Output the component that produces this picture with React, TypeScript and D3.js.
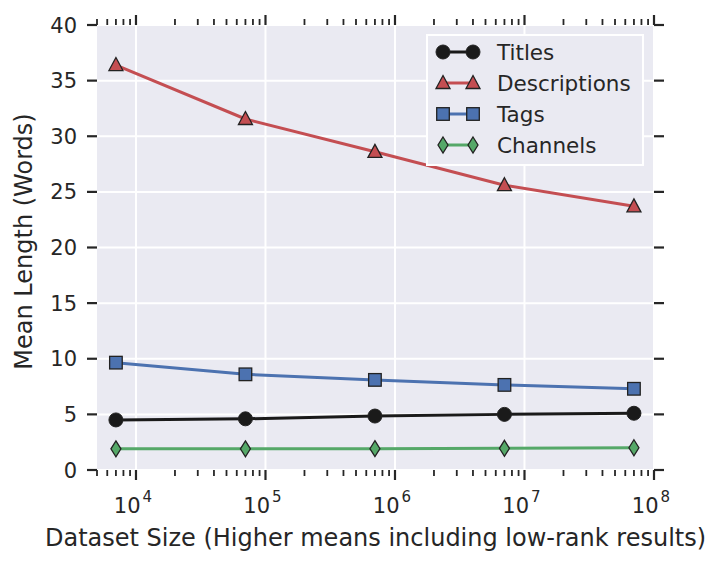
import React, { useEffect, useRef } from 'react';
import * as d3 from 'd3';

const datasetSizes = [7e3, 7e4, 7e5, 7e6, 7e7];
const titles = [4.5, 4.6, 4.85, 5.0, 5.1];
const descriptions = [36.4, 31.55, 28.6, 25.6, 23.7];
const tags = [9.65, 8.6, 8.1, 7.65, 7.3];
const channels = [1.9, 1.9, 1.92, 1.95, 2.0];

const seriesNames = ['Titles', 'Descriptions', 'Tags', 'Channels'];
const yTicks = [0, 5, 10, 15, 20, 25, 30, 35, 40];
const xDecades = [4, 5, 6, 7, 8];

const colors = ['#1a1a1a', '#C44E52', '#4C72B0', '#55A868'];
const markers = ['circle', 'triangle', 'square', 'diamond'];

const App: React.FC = () => {
  const svgRef = useRef<SVGSVGElement>(null);

  useEffect(() => {
    if (!svgRef.current) return;
    const svg = d3.select(svgRef.current);
    svg.selectAll('*').remove();

    const width = 720;
    const height = 566;
    const margin = { top: 25, right: 66, bottom: 96, left: 97 };
    const iw = width - margin.left - margin.right;
    const ih = height - margin.top - margin.bottom;
    const font = 'DejaVu Sans, sans-serif';
    const ink = '#262626';

    svg.attr('width', width).attr('height', height);

    const x = d3.scaleLog().domain([5e3, 1e8]).range([0, iw]);
    const y = d3.scaleLinear().domain([0, 40]).range([ih, 0]);

    const g = svg.append('g').attr('transform', `translate(${margin.left},${margin.top})`);

    g.append('rect').attr('width', iw).attr('height', ih).attr('fill', '#EAEAF2');

    // grid
    g.selectAll('.hgrid').data(yTicks).enter().append('line')
      .attr('x1', 0).attr('x2', iw)
      .attr('y1', d => y(d)).attr('y2', d => y(d))
      .attr('stroke', 'white').attr('stroke-width', 2);
    g.selectAll('.vgrid').data(xDecades).enter().append('line')
      .attr('x1', d => x(Math.pow(10, d))).attr('x2', d => x(Math.pow(10, d)))
      .attr('y1', 0).attr('y2', ih)
      .attr('stroke', 'white').attr('stroke-width', 2);

    // minor ticks on log axis
    const minor: number[] = [];
    for (let e = 3; e <= 7; e++) {
      for (let m = 2; m <= 9; m++) {
        const v = m * Math.pow(10, e);
        if (v >= 5e3 && v <= 1e8) minor.push(v);
      }
    }
    const majorLen = 10;
    const minorLen = 6;

    [0, -1].forEach(side => {
      const y0 = side === 0 ? ih : 0;
      const dir = side === 0 ? 1 : -1;
      g.selectAll(`.minor${side}`).data(minor).enter().append('line')
        .attr('x1', d => x(d)).attr('x2', d => x(d))
        .attr('y1', y0).attr('y2', y0 + dir * minorLen)
        .attr('stroke', ink).attr('stroke-width', 1.8);
      g.selectAll(`.major${side}`).data(xDecades).enter().append('line')
        .attr('x1', d => x(Math.pow(10, d))).attr('x2', d => x(Math.pow(10, d)))
        .attr('y1', y0).attr('y2', y0 + dir * majorLen)
        .attr('stroke', ink).attr('stroke-width', 2.2);
    });

    [0, iw].forEach((x0, i) => {
      const dir = i === 0 ? -1 : 1;
      g.selectAll(`.ytick${i}`).data(yTicks).enter().append('line')
        .attr('x1', x0).attr('x2', x0 + dir * majorLen)
        .attr('y1', d => y(d)).attr('y2', d => y(d))
        .attr('stroke', ink).attr('stroke-width', 2.2);
    });

    // y tick labels
    g.selectAll('.ylab').data(yTicks).enter().append('text')
      .attr('x', -majorLen - 10).attr('y', d => y(d)).attr('dy', '0.36em')
      .attr('text-anchor', 'end')
      .attr('font-family', font).attr('font-size', 21).attr('fill', ink)
      .text(d => d);

    // x tick labels 10^n
    const xl = g.selectAll('.xlab').data(xDecades).enter().append('text')
      .attr('x', d => x(Math.pow(10, d)) - 3).attr('y', ih + 43)
      .attr('text-anchor', 'middle')
      .attr('font-family', font).attr('fill', ink);
    xl.append('tspan').attr('font-size', 21).text('10');
    xl.append('tspan').attr('font-size', 15).attr('dy', -11).attr('dx', 2).text(d => d);

    // axis titles
    g.append('text')
      .attr('x', iw / 2).attr('y', ih + 76)
      .attr('text-anchor', 'middle')
      .attr('font-family', font).attr('font-size', 24).attr('fill', ink)
      .text('Dataset Size (Higher means including low-rank results)');
    g.append('text')
      .attr('transform', `translate(${-65},${ih / 2 - 6}) rotate(-90)`)
      .attr('text-anchor', 'middle')
      .attr('font-family', font).attr('font-size', 24).attr('fill', ink)
      .text('Mean Length (Words)');

    const drawMarker = (sel: d3.Selection<SVGGElement, unknown, null, undefined>, type: string, color: string) => {
      const edge = '#222';
      if (type === 'circle') {
        sel.append('circle').attr('r', 7).attr('fill', color).attr('stroke', edge).attr('stroke-width', 1);
      } else if (type === 'triangle') {
        sel.append('path').attr('d', 'M0,-7.5 L7,5.5 L-7,5.5 Z').attr('fill', color).attr('stroke', edge).attr('stroke-width', 1.3);
      } else if (type === 'square') {
        sel.append('rect').attr('x', -6.3).attr('y', -6.3).attr('width', 12.6).attr('height', 12.6)
          .attr('fill', color).attr('stroke', edge).attr('stroke-width', 1.3);
      } else {
        sel.append('path').attr('d', 'M0,-8 L5,0 L0,8 L-5,0 Z').attr('fill', color).attr('stroke', edge).attr('stroke-width', 1.3);
      }
    };

    const allSeries = [titles, descriptions, tags, channels];
    const line = d3.line<number>()
      .x((_, i) => x(datasetSizes[i]))
      .y(d => y(d));

    allSeries.forEach((vals, si) => {
      g.append('path').datum(vals)
        .attr('d', line)
        .attr('fill', 'none')
        .attr('stroke', colors[si])
        .attr('stroke-width', 3);
      vals.forEach((v, i) => {
        const mg = g.append('g').attr('transform', `translate(${x(datasetSizes[i])},${y(v)})`);
        drawMarker(mg, markers[si], colors[si]);
      });
    });

    // legend
    const lx = 427 - margin.left;
    const ly = 35 - margin.top;
    const legend = g.append('g').attr('transform', `translate(${lx},${ly})`);
    legend.append('rect')
      .attr('width', 216).attr('height', 130)
      .attr('fill', '#EAEAF2').attr('stroke', 'white').attr('stroke-width', 2);
    seriesNames.forEach((name, i) => {
      const cy = 17 + i * 31;
      legend.append('line')
        .attr('x1', 16).attr('x2', 46).attr('y1', cy).attr('y2', cy)
        .attr('stroke', colors[i]).attr('stroke-width', 3);
      [16, 46].forEach(mx => {
        const mg = legend.append('g').attr('transform', `translate(${mx},${cy})`);
        drawMarker(mg, markers[i], colors[i]);
      });
      legend.append('text')
        .attr('x', 70).attr('y', cy).attr('dy', '0.36em')
        .attr('font-family', font).attr('font-size', 21.5).attr('fill', ink)
        .text(name);
    });
  }, []);

  return (
    <svg ref={svgRef} style={{ position: 'absolute', left: 0, top: 0, background: 'white' }}></svg>
  );
};

export default App;
